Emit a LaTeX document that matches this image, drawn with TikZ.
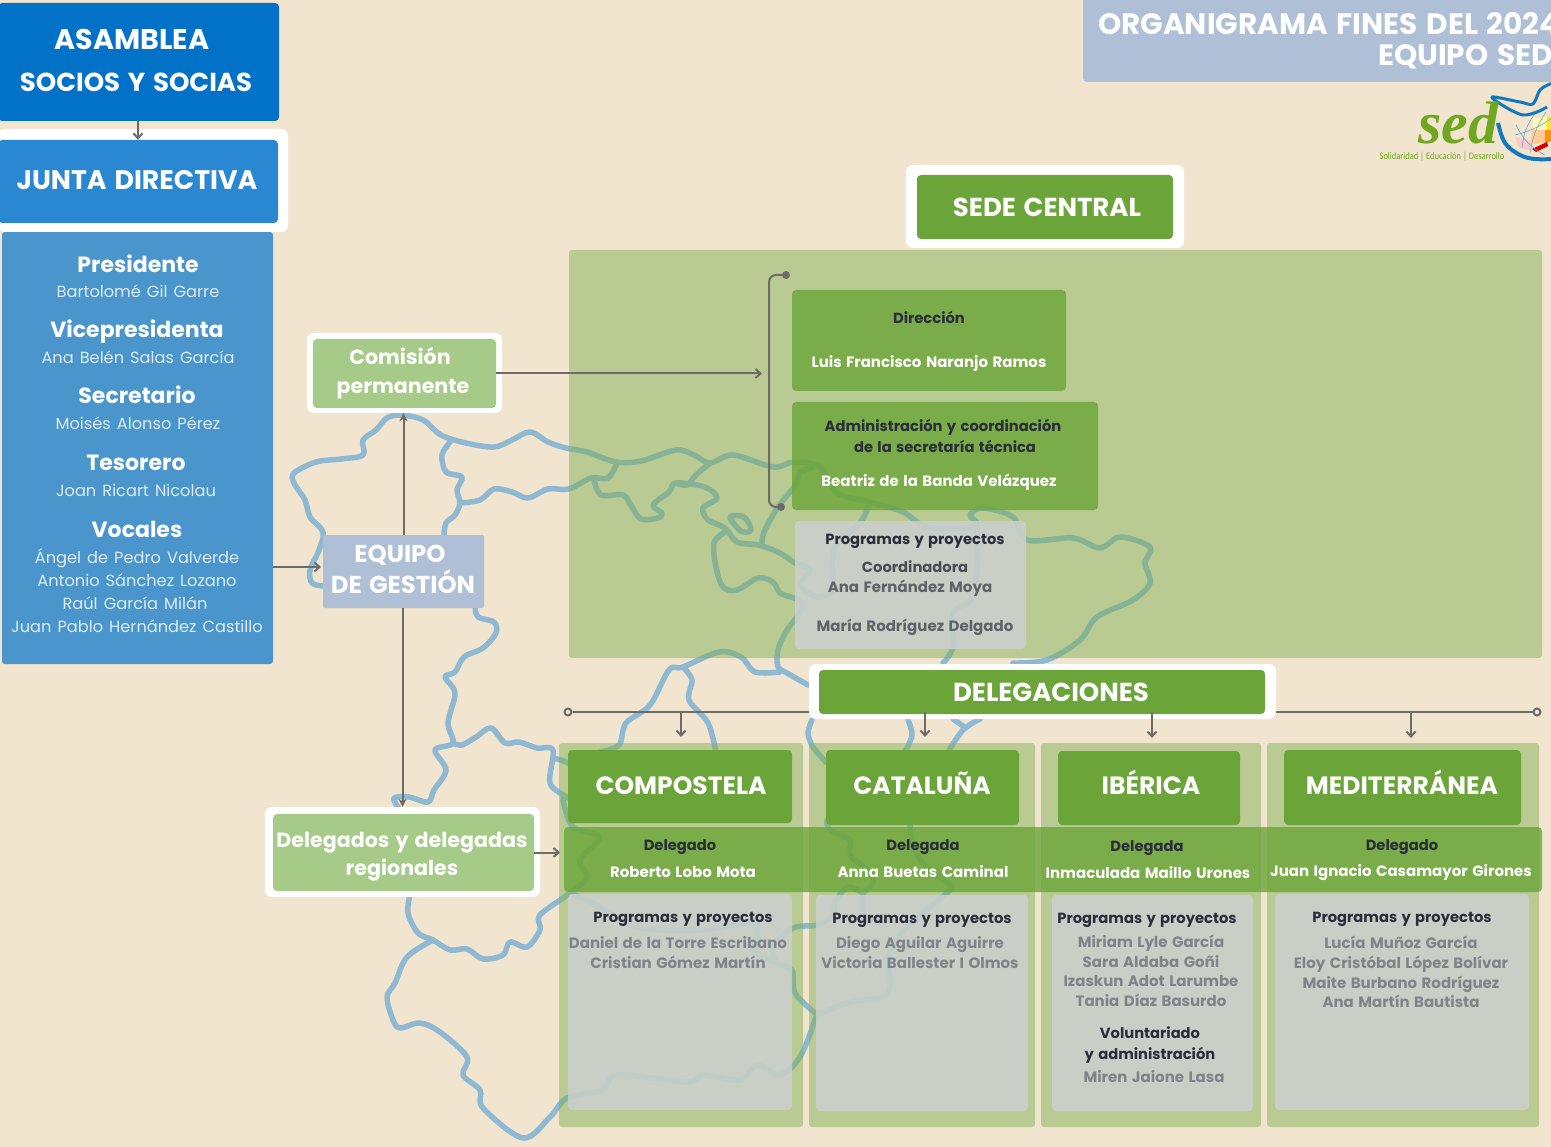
\documentclass[tikz,border=0pt]{standalone}
\usepackage{fontspec}
\setmainfont{Poppins}[WordSpace=1.4]
\newfontfamily\logofont{Liberation Serif}
\newfontfamily\tagfont{Carlito}[FakeStretch=.85]
\usetikzlibrary{arrows.meta}
\definecolor{bgcream}{HTML}{F1E5CF}
\definecolor{mapblue}{HTML}{8FB9D2}
\definecolor{linegrey}{HTML}{6E6A6A}
\definecolor{darkblue}{HTML}{0272C9}
\definecolor{midblue}{HTML}{2A88D2}
\definecolor{softblue}{HTML}{4A96CC}
\definecolor{greyblue}{HTML}{AEBFD6}
\definecolor{leaf}{HTML}{6BA539}
\definecolor{logoleaf}{HTML}{6FA820}
\definecolor{logoblue}{HTML}{1478BE}
\definecolor{paleleaf}{HTML}{A6CB88}
\definecolor{panelleaf}{HTML}{7AAE4F}
\definecolor{panelgrey}{HTML}{CCD0D1}
\definecolor{inkdark}{HTML}{2B2D3A}
\definecolor{inkmid}{HTML}{4A4D50}
\definecolor{inkgrey}{HTML}{7F8489}
\definecolor{inkname}{HTML}{5F6368}
\definecolor{paleink}{HTML}{DCEBF5}
\tikzset{
  box/.style={rectangle, rounded corners=4pt, inner sep=0pt},
  frame/.style={box, fill=white, rounded corners=7pt},
  panel/.style={box, fill=panelleaf, fill opacity=.47, rounded corners=3pt},
  greybox/.style={box, fill=panelgrey, fill opacity=.85},
  leafbox/.style={box, fill=leaf, fill opacity=.8},
  headbox/.style={box, fill=leaf},
  txt/.style={inner sep=0pt, text opacity=1, text depth=0pt},
  head/.style={txt, text=white, text height=18pt, font=\fontsize{25}{30}\selectfont\bfseries},
  role/.style={txt, text=white, text height=17pt, font=\fontsize{22}{26}\selectfont\bfseries},
  member/.style={txt, text=paleink, text height=13pt, font=\fontsize{16.2}{20}\selectfont},
  soft/.style={txt, text=white, text height=16pt, font=\fontsize{20.6}{25}\selectfont\bfseries},
  softer/.style={soft, text height=17pt, font=\fontsize{24.4}{27}\selectfont\bfseries},
  dark/.style={txt, text=inkdark, text height=11pt, font=\fontsize{14.7}{18}\selectfont\bfseries},
  white name/.style={txt, text=white, text height=11pt, font=\fontsize{15}{18}\selectfont\bfseries},
  grey name/.style={txt, text=inkgrey, text height=11pt, font=\fontsize{15}{18}\selectfont\bfseries},
  mapline/.style={draw=mapblue, line width=5.5pt, line cap=round, line join=round},
  conn/.style={draw=linegrey, line width=2pt, -{Straight Barb[length=5pt,width=9pt]}},
  connfull/.style={draw=linegrey, line width=2pt, -{Stealth[length=8pt,width=8pt]}},
  wire/.style={draw=linegrey, line width=2pt},
  ring/.style={circle, draw=linegrey, line width=2pt, minimum size=7pt, inner sep=0pt},
  knob/.style={circle, fill=linegrey, minimum size=8pt, inner sep=0pt},
}
\begin{document}
\begin{tikzpicture}[x=1pt,y=-1pt]
\useasboundingbox (0,0) rectangle (1551,1147);
\fill[bgcream] (0,0) rectangle (1551,1147);

% mapa de fondo
\draw[mapline] plot[smooth,tension=.55] coordinates {(323,586) (312,583) (310,570) (319,550) (323,532) (310,517) (305,500) (294,483) (294,473) (316,462) (341,459) (363,455) (363,440) (376,430) (387,418) (401,415) (423,420) (441,435) (466,443) (494,447) (512,440) (530,432) (548,442) (566,448) (587,452) (616,462) (641,461) (676,450) (694,455) (710,463) (733,455) (773,467) (794,462) (820,467) (837,493) (870,502) (903,512) (927,527) (967,528) (977,523) (970,515) (983,508) (1013,517) (1027,540) (1073,538) (1100,548) (1120,537) (1150,547) (1145,563) (1150,583) (1133,600) (1097,617) (1080,640) (1047,660) (1013,663)};
\draw[mapline] plot[smooth,tension=.55] coordinates {(450,442) (442,455) (446,472) (462,477) (457,490) (460,503) (455,515) (446,523) (444,535)};
\draw[mapline] plot[smooth,tension=.55] coordinates {(460,503) (480,500) (494,489) (512,492) (528,498) (548,489) (569,489) (591,478) (608,478) (617,463)};
\draw[mapline] plot[smooth,tension=.55] coordinates {(594,480) (601,495) (623,495) (632,507) (641,519) (658,518) (662,513) (653,505) (669,492) (676,483) (705,487) (717,498) (703,508) (708,520) (725,528) (737,542) (758,545) (778,552) (795,563) (810,570) (800,585) (817,597) (833,592)};
\draw[mapline] plot[smooth,tension=.55] coordinates {(676,483) (687,485) (696,475) (710,463)};
\draw[mapline] plot[smooth,tension=.55] coordinates {(725,532) (714,543) (716,567) (723,587) (737,590) (758,578) (773,582) (780,593) (794,598) (802,603) (800,613) (787,630) (778,650) (778,667) (787,673) (808,685)};
\draw[mapline] plot[smooth cycle,tension=.55] coordinates {(730,517) (744,517) (751,530) (741,531)};
\draw[mapline] plot[smooth,tension=.55] coordinates {(762,545) (764,532) (778,507) (794,487) (801,472) (812,468)};
\draw[mapline] plot[smooth,tension=.55] coordinates {(870,503) (860,523) (837,543) (832,567) (835,590)};
\draw[mapline] plot[smooth,tension=.55] coordinates {(977,527) (977,560) (973,597) (953,613) (953,647) (943,663)};
\draw[mapline] plot[smooth,tension=.55] coordinates {(475,606) (478,617) (494,622) (496,633) (483,648) (464,657) (455,672) (445,677) (455,693) (448,723) (453,743) (435,750) (446,770) (434,790) (428,802) (409,797) (394,798) (398,807)};
\draw[mapline] plot[smooth,tension=.55] coordinates {(453,743) (462,745) (476,737) (491,728) (505,743) (519,742) (537,748) (553,750) (550,783) (566,797) (563,800) (573,827) (600,837) (580,860) (587,877) (570,893) (540,915) (540,930) (527,947) (510,942) (503,955) (483,959) (467,949) (450,950) (433,940) (418,933) (408,913) (410,895)};
\draw[mapline] plot[smooth,tension=.55] coordinates {(433,940) (407,957) (395,983) (387,997) (393,1020) (400,1028) (420,1023) (440,1032) (467,1057) (463,1075) (480,1090) (483,1108) (523,1138) (550,1117) (567,1098) (603,1090) (617,1075) (687,1082) (703,1075) (740,1080) (757,1065) (780,1075) (800,1057) (815,1020) (817,1012)};
\draw[mapline] plot[smooth,tension=.55] coordinates {(553,758) (566,762) (590,775)};
\draw[mapline] plot[smooth,tension=.55] coordinates {(780,672) (755,672) (741,657) (719,652) (683,667) (669,670) (650,705) (626,723) (619,745) (600,752)};
\draw[mapline] plot[smooth,tension=.55] coordinates {(683,667) (692,680) (689,700) (708,723) (716,752)};
\draw[mapline] plot[smooth,tension=.55] coordinates {(812,720) (808,733) (813,747) (826,762)};
\draw[mapline] plot[smooth,tension=.55] coordinates {(908,720) (912,735) (905,752)};
\draw[mapline] plot[smooth,tension=.55] coordinates {(980,719) (963,730) (948,752)};
\draw[mapline] plot[smooth,tension=.55] coordinates {(953,719) (963,726)};
\draw[mapline] plot[smooth,tension=.55] coordinates {(910,822) (913,845) (927,868) (950,885) (947,893) (907,927) (888,957) (890,983) (883,997) (850,1002) (817,1015)};
\draw[mapline] plot[smooth,tension=.55] coordinates {(827,820) (830,830) (850,840) (850,855) (870,872) (873,883) (863,892) (848,887) (835,902) (833,915) (817,925) (793,928) (773,947) (777,963) (792,970) (795,993) (815,1013)};
\draw[mapline] plot[smooth,tension=.55] coordinates {(570,893) (593,903) (637,927) (700,930) (753,922) (757,935) (753,950) (777,963)};
\draw[mapline] plot[smooth,tension=.55] coordinates {(863,892) (863,910) (867,923)};

% paneles translucidos
\node[panel, minimum width=973pt, minimum height=408pt] (panelsede) at (1055.5,454) {};
\node[panel, minimum width=244pt, minimum height=384pt] (colcompostela) at (681,935) {};
\node[panel, minimum width=226pt, minimum height=384pt] (colcataluna) at (922,935) {};
\node[panel, minimum width=220pt, minimum height=384pt] (coliberica) at (1151,935) {};
\node[panel, minimum width=272pt, minimum height=384pt] (colmediterranea) at (1403,935) {};

% linea de delegaciones
\node[ring] (ringleft) at (568,712) {};
\node[ring] (ringright) at (1537,712) {};
\draw[wire] (ringleft) -- (ringright);

% columna izquierda
\node[box, fill=darkblue, minimum width=281pt, minimum height=118pt] (asamblea) at (138.5,62) {};
\node[box, fill=softblue, rounded corners=3pt, minimum width=271pt, minimum height=432pt] (junta box) at (137.5,448) {};
\node[frame, minimum width=290pt, minimum height=103pt] (juntaframe) at (143,180.5) {};
\node[box, fill=midblue, minimum width=280pt, minimum height=83pt] (junta) at (138,181.5) {};
\node[head, text height=20pt, font=\fontsize{28.5}{30}\selectfont\bfseries] (asamblea1) at (132,40) {ASAMBLEA};
\node[head, text height=19pt, font=\fontsize{26}{30}\selectfont\bfseries] (asamblea2) at (136,82) {SOCIOS Y SOCIAS};
\node[head, text height=19pt, font=\fontsize{26.8}{30}\selectfont\bfseries] (junta1) at (137,180) {JUNTA DIRECTIVA};
\node[role] (cargo1) at (138,264) {Presidente};
\node[member] (nombre1) at (138,291) {Bartolomé Gil Garre};
\node[role] (cargo2) at (137,329) {Vicepresidenta};
\node[member] (nombre2) at (138,357) {Ana Belén Salas García};
\node[role] (cargo3) at (137,395) {Secretario};
\node[member] (nombre3) at (138,423) {Moisés Alonso Pérez};
\node[role] (cargo4) at (136,462) {Tesorero};
\node[member] (nombre4) at (136,490) {Joan Ricart Nicolau};
\node[role] (cargo5) at (137,529) {Vocales};
\node[member] (nombre5) at (137,557) {Ángel de Pedro Valverde};
\node[member] (nombre6) at (137,580) {Antonio Sánchez Lozano};
\node[member] (nombre7) at (135,603) {Raúl García Milán};
\node[member] (nombre8) at (137,626) {Juan Pablo Hernández Castillo};

% comision, equipo y delegados
\node[frame, minimum width=195pt, minimum height=80pt] (comisionframe) at (404.5,373) {};
\node[box, fill=paleleaf, minimum width=183pt, minimum height=69pt] (comision) at (404.5,373.5) {};
\node[soft] (comision1) at (400,357) {Comisión};
\node[soft] (comision2) at (403,386) {permanente};
\node[box, fill=greyblue, rounded corners=2pt, minimum width=161pt, minimum height=73pt] (equipo) at (403.5,571.5) {};
\node[softer] (equipo1) at (400,554) {EQUIPO};
\node[softer] (equipo2) at (403,585) {DE GESTIÓN};
\node[frame, minimum width=275pt, minimum height=90pt] (delegadosframe) at (402.5,852) {};
\node[box, fill=paleleaf, minimum width=261pt, minimum height=77pt] (delegados) at (403.5,852.5) {};
\node[soft] (delegados1) at (402,839) {Delegados y delegadas};
\node[soft] (delegados2) at (402,867) {regionales};

% titulo y logo
\node[box, fill=greyblue, minimum width=477pt, minimum height=87pt] (titulo) at (1321.5,38.5) {};
\node[head, text height=20pt, font=\fontsize{29.5}{32}\selectfont\bfseries, anchor=west] (titulo1) at (1098,25) {ORGANIGRAMA FINES DEL 2024};
\node[head, text height=20pt, font=\fontsize{29.5}{32}\selectfont\bfseries, anchor=east] (titulo2) at (1553,56) {EQUIPO SED};
\fill[yellow!30!white] (1533,118) -- (1547,117) -- (1547,130) -- (1533,130) -- cycle;
\fill[yellow!95!orange] (1547,117) -- (1552,116) -- (1552,130) -- (1547,130) -- cycle;
\fill[orange!40!white] (1532,130) -- (1545,130) -- (1545,143) -- (1530,144) -- cycle;
\fill[orange!85!yellow] (1545,130) -- (1552,130) -- (1552,141) -- (1545,143) -- cycle;
\fill[red!22!white] (1515,137) -- (1530,141) -- (1530,150) -- (1519,148) -- cycle;
\fill[red!85!black] (1532,149) -- (1547,142) -- (1548,146) -- (1536,152) -- cycle;
\draw[logoblue!70!white, line width=.5pt] (1515,135) to[bend right=10] (1552,118) (1522,148) to[bend left=15] (1536,112) (1530,153) to[bend left=12] (1546,112) (1516,125) to[bend right=18] (1545,155);
\draw[logoblue, line width=4pt] plot[smooth,tension=.6] coordinates {(1498,123) (1505,143) (1520,155) (1535,159) (1553,159)};
\draw[logoblue, line width=3pt, line join=round] plot[smooth,tension=.5] coordinates {(1547,107) (1537,112) (1523,115) (1507,108) (1492,97) (1520,102) (1533,104) (1540,90) (1550,84) (1556,84)};
\node[txt, text=logoleaf, text height=38pt, font=\logofont\fontsize{60}{62}\selectfont\bfseries\itshape] (logosed) at (1458,125) {sed};
\node[txt, text=logoleaf, text height=7pt, font=\tagfont\fontsize{10}{12}\selectfont] (logolema) at (1442,156) {Solidaridad | Educación | Desarrollo};

% sede central
\node[frame, minimum width=278pt, minimum height=83pt] (sedeframe) at (1045,206.5) {};
\node[headbox, minimum width=256pt, minimum height=64pt] (sede) at (1045,207) {};
\node[head, text height=20pt, font=\fontsize{26}{28}\selectfont\bfseries] (sede1) at (1047,207) {SEDE CENTRAL};
\node[leafbox, minimum width=274pt, minimum height=101pt] (direccion) at (929,340.5) {};
\node[dark] (direccion1) at (929,318) {Dirección};
\node[white name] (direccion2) at (929,362) {Luis Francisco Naranjo Ramos};
\node[leafbox, minimum width=306pt, minimum height=108pt] (admin) at (945,456) {};
\node[dark] (admin1) at (943,426) {Administración y coordinación};
\node[dark] (admin2) at (945,447) {de la secretaría técnica};
\node[white name] (admin3) at (939,481) {Beatriz de la Banda Velázquez};
\node[greybox, minimum width=231pt, minimum height=128pt] (programas) at (910.5,585) {};
\node[dark] (programas1) at (915,539) {Programas y proyectos};
\node[dark, text=inkmid] (programas2) at (915,567) {Coordinadora};
\node[grey name, text=inkname] (programas3) at (910,587) {Ana Fernández Moya};
\node[grey name, text=inkname] (programas4) at (915,626) {María Rodríguez Delgado};

% delegaciones
\node[frame, minimum width=467pt, minimum height=55pt] (delegacionesframe) at (1042.5,691.5) {};
\node[headbox, minimum width=446pt, minimum height=44pt] (delegaciones) at (1042,692) {};
\node[head, font=\fontsize{26}{28}\selectfont\bfseries] (delegaciones1) at (1051,692) {DELEGACIONES};
\node[headbox, minimum width=224pt, minimum height=73pt] (compostela) at (680,786.5) {};
\node[headbox, minimum width=193pt, minimum height=75pt] (cataluna) at (922.5,787.5) {};
\node[headbox, minimum width=182pt, minimum height=74pt] (iberica) at (1149,788) {};
\node[headbox, minimum width=237pt, minimum height=75pt] (mediterranea) at (1402.5,787.5) {};
\node[head] (compostela1) at (681,785) {COMPOSTELA};
\node[head] (cataluna1) at (922,785) {CATALUÑA};
\node[head] (iberica1) at (1151,785) {IBÉRICA};
\node[head] (mediterranea1) at (1402,785) {MEDITERRÁNEA};
\node[leafbox, minimum width=978pt, minimum height=65pt] (banda) at (1053,859.5) {};
\node[dark] (cargocomp) at (680,845) {Delegado};
\node[white name] (nombrecomp) at (683,872) {Roberto Lobo Mota};
\node[dark] (cargocat) at (923,845) {Delegada};
\node[white name] (nombrecat) at (923,872) {Anna Buetas Caminal};
\node[dark] (cargoib) at (1147,846) {Delegada};
\node[white name] (nombreib) at (1148,873) {Inmaculada Maillo Urones};
\node[dark] (cargomed) at (1402,845) {Delegado};
\node[white name] (nombremed) at (1401,871) {Juan Ignacio Casamayor Girones};

\node[greybox, minimum width=224pt, minimum height=216pt] (greycomp) at (680,1002) {};
\node[greybox, minimum width=212pt, minimum height=216pt] (greycat) at (922,1003) {};
\node[greybox, minimum width=201pt, minimum height=216pt] (greyib) at (1152.5,1003) {};
\node[greybox, minimum width=254pt, minimum height=216pt] (greymed) at (1402,1002) {};
\node[dark] (progcomp) at (683,917) {Programas y proyectos};
\node[grey name] (progcomp1) at (678,943) {Daniel de la Torre Escribano};
\node[grey name] (progcomp2) at (678,963) {Cristian Gómez Martín};
\node[dark] (progcat) at (922,918) {Programas y proyectos};
\node[grey name] (progcat1) at (920,943) {Diego Aguilar Aguirre};
\node[grey name] (progcat2) at (920,963) {Victoria Ballester I Olmos};
\node[dark] (progib) at (1147,918) {Programas y proyectos};
\node[grey name] (progib1) at (1151,942) {Miriam Lyle García};
\node[grey name] (progib2) at (1151,962) {Sara Aldaba Goñi};
\node[grey name] (progib3) at (1151,981) {Izaskun Adot Larumbe};
\node[grey name] (progib4) at (1151,1001) {Tania Díaz Basurdo};
\node[dark] (progib5) at (1150,1033) {Voluntariado};
\node[dark] (progib6) at (1150,1054) {y administración};
\node[grey name] (progib7) at (1154,1077) {Miren Jaione Lasa};
\node[dark] (progmed) at (1402,917) {Programas y proyectos};
\node[grey name] (progmed1) at (1401,943) {Lucía Muñoz García};
\node[grey name] (progmed2) at (1401,963) {Eloy Cristóbal López Bolívar};
\node[grey name] (progmed3) at (1401,983) {Maite Burbano Rodríguez};
\node[grey name] (progmed4) at (1401,1002) {Ana Martín Bautista};

% conectores
\coordinate (llavesup) at (769,275);
\coordinate (llaveinf) at (769,507);
\coordinate (llaveflecha) at (762,373);
\coordinate (equipoentra) at (321,567);
\coordinate (bandaentra) at (560,853);
\coordinate (flechacomp) at (681,737);
\coordinate (flechacat) at (925,737);
\coordinate (flechaib) at (1152,738);
\coordinate (flechamed) at (1411,738);
\node[knob] (knobsup) at (786,275) {};
\node[knob] (knobinf) at (781,507) {};
\draw[wire, rounded corners=7pt] (knobsup) -- (llavesup) -- (llaveinf) -- (knobinf);
\draw[conn] (junta.north |- asamblea.south) -- (junta.north);
\draw[conn] (comision.east) -- (llaveflecha |- comision.east);
\draw[conn] (junta box.east |- equipoentra) -- (equipoentra);
\draw[connfull] (equipo.north) -- (equipo.north |- comisionframe.south);
\draw[connfull] (delegadosframe.north |- equipo.south) -- (delegadosframe.north);
\draw[conn] (delegados.east) -- (bandaentra |- delegados.east);
\draw[conn] (flechacomp |- ringleft) -- (flechacomp);
\draw[conn] (flechacat |- ringleft) -- (flechacat);
\draw[conn] (flechaib |- ringleft) -- (flechaib);
\draw[conn] (flechamed |- ringleft) -- (flechamed);
\end{tikzpicture}
\end{document}
